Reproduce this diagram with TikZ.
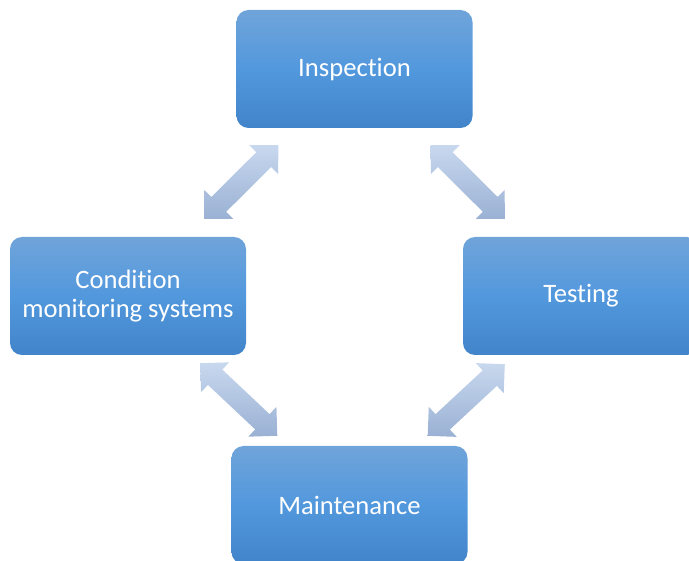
\documentclass[tikz,border=0pt]{standalone}
\usepackage{fontspec}
\setmainfont{Carlito}[Ligatures={NoCommon}]
\usetikzlibrary{calc}
\definecolor{boxtop}{HTML}{70A4DA}
\definecolor{boxmid}{HTML}{5298DD}
\definecolor{boxbot}{HTML}{4284CA}
\definecolor{arrtop}{HTML}{C8D8EE}
\definecolor{arrbot}{HTML}{9AB1D4}
\tikzset{
  box/.style={rounded corners=12pt, minimum width=236pt, minimum height=118pt,
    inner sep=0pt, top color=boxtop, bottom color=boxbot, middle color=boxmid,
    text=white, font=\fontsize{26.6}{29}\selectfont, align=center},
  arrfill/.style={top color=arrtop, bottom color=arrbot, draw=none}
}
\newcommand\ahead{20.5pt}
\newcommand\awide{20.5pt}
\newcommand\ashaft{10.5pt}
\newcommand\dblarrow[2]{%
  \path[arrfill] (#1)
   -- ($(#1)!\ahead!(#2)!\awide!90:(#2)$)
   -- ($(#1)!\ahead!(#2)!\ashaft!90:(#2)$)
   -- ($(#2)!\ahead!(#1)!\ashaft!-90:(#1)$)
   -- ($(#2)!\ahead!(#1)!\awide!-90:(#1)$)
   -- (#2)
   -- ($(#2)!\ahead!(#1)!\awide!90:(#1)$)
   -- ($(#2)!\ahead!(#1)!\ashaft!90:(#1)$)
   -- ($(#1)!\ahead!(#2)!\ashaft!-90:(#2)$)
   -- ($(#1)!\ahead!(#2)!\awide!-90:(#2)$)
   -- cycle;}
\begin{document}
\begin{tikzpicture}[x=1pt,y=-1pt]
\useasboundingbox (0,0) rectangle (689,561);
\node[box] (insp) at (354.5,69) {Inspection};
\node[box] (cond) at (128,296) {Condition\\monitoring systems};
\node[box] (test) at (581,296) {Testing};
\node[box] (main) at (349.5,505) {Maintenance};
% arrow end points
\coordinate (a1) at ($(insp.south west)+(42,17)$);
\coordinate (a2) at ($(cond.north east)+(-42,-18)$);
\coordinate (b1) at ($(insp.south east)+(-42,17)$);
\coordinate (b2) at ($(test.north west)+(42,-18)$);
\coordinate (c1) at ($(cond.south east)+(-46,8)$);
\coordinate (c2) at ($(main.north west)+(46,-10)$);
\coordinate (d1) at ($(test.south west)+(42,9)$);
\coordinate (d2) at ($(main.north east)+(-40,-10)$);
\dblarrow{a1}{a2}
\dblarrow{b1}{b2}
\dblarrow{c1}{c2}
\dblarrow{d1}{d2}
\end{tikzpicture}
\end{document}
